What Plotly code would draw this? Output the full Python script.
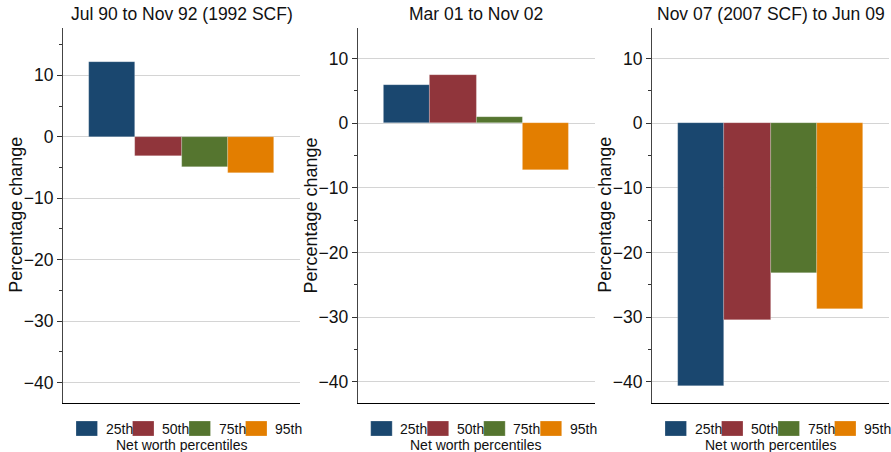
import plotly.graph_objects as go

# ---- data ----
percentiles = ["25th", "50th", "75th", "95th"]
panel_titles = ["Jul 90 to Nov 92 (1992 SCF)", "Mar 01 to Nov 02", "Nov 07 (2007 SCF) to Jun 09"]
changes_1990_92 = [12.1, -3.1, -4.9, -5.9]
changes_2001_02 = [5.9, 7.4, 0.9, -7.2]
changes_2007_09 = [-40.6, -30.4, -23.1, -28.7]
y_ranges = [[-43.3, 17.7], [-43.2, 14.7], [-43.2, 14.7]]
y_tick_vals = [10, 0, -10, -20, -30, -40]
y_title = "Percentage change"
legend_title = "Net worth percentiles"

colors = ["#1a476f", "#90353b", "#55752f", "#e37e00"]
series = [changes_1990_92, changes_2001_02, changes_2007_09]

W, H = 891, 452
FONT = "Liberation Sans, Arial, Helvetica, sans-serif"

panel_px = [(63, 300), (357.7, 595), (652, 889)]
y_top_px, y_bot_px = 28, 402.7
ydom = [1 - y_bot_px / H, 1 - y_top_px / H]

fig = go.Figure()
annotations = []
shapes = []

for i, vals in enumerate(series):
    n = i + 1
    xa = "x" if n == 1 else f"x{n}"
    ya = "y" if n == 1 else f"y{n}"
    fig.add_trace(go.Bar(
        x=list(range(len(percentiles))), y=vals,
        width=1.0,
        marker=dict(color=colors, line=dict(width=0.6, color="rgba(255,255,255,0.35)")),
        xaxis=xa, yaxis=ya, showlegend=False,
        hovertext=percentiles,
    ))
    l, r = panel_px[i]
    dom = [l / W, r / W]
    xkey = "xaxis" if n == 1 else f"xaxis{n}"
    ykey = "yaxis" if n == 1 else f"yaxis{n}"
    fig.update_layout(**{
        xkey: dict(domain=dom, range=[-1.06, 4.06], showticklabels=False, ticks="",
                   showgrid=False, zeroline=False, showline=True, linecolor="#000000",
                   linewidth=1, anchor=ya, fixedrange=True),
        ykey: dict(domain=ydom, range=y_ranges[i], anchor=xa, tickvals=y_tick_vals,
                   ticks="outside", ticklen=5, tickwidth=1, tickcolor="#333333",
                   showgrid=True, gridcolor="#d4d4d4", gridwidth=1,
                   zeroline=False, showline=True, linecolor="#444444", linewidth=1,
                   tickfont=dict(family=FONT, size=17.5, color="#111111"),
                   minor=dict(dtick=5, tick0=0, ticks="outside", ticklen=3,
                              tickcolor="#333333", showgrid=False),
                   fixedrange=True),
    })
    # panel title
    annotations.append(dict(text=panel_titles[i], xref="paper", yref="paper",
                            x=(l + r) / 2 / W, y=1 - 14 / H, xanchor="center", yanchor="middle",
                            showarrow=False, font=dict(family=FONT, size=17.5, color="#111111")))
    # y-axis title
    annotations.append(dict(text=y_title, xref="paper", yref="paper",
                            x=(l - 46.5) / W, y=(ydom[0] + ydom[1]) / 2, textangle=-90,
                            xanchor="center", yanchor="middle", showarrow=False,
                            font=dict(family=FONT, size=18, color="#111111")))
    # legend (swatches + labels)
    sw_top, sw_bot = 421, 436
    for k, (lab, c) in enumerate(zip(percentiles, colors)):
        x0 = l + 13 + k * 56.5
        x1 = x0 + 21.5
        shapes.append(dict(type="rect", xref="paper", yref="paper",
                           x0=x0 / W, x1=x1 / W, y0=1 - sw_bot / H, y1=1 - sw_top / H,
                           fillcolor=c, line=dict(width=0.6, color="rgba(255,255,255,0.4)")))
        annotations.append(dict(text=lab, xref="paper", yref="paper",
                                x=(x1 + 6) / W, y=1 - (sw_top + sw_bot) / 2 / H,
                                xanchor="left", yanchor="middle", showarrow=False,
                                font=dict(family=FONT, size=14, color="#111111")))
    annotations.append(dict(text=legend_title, xref="paper", yref="paper",
                            x=(l + r) / 2 / W, y=1 - 444.5 / H, xanchor="center", yanchor="middle",
                            showarrow=False, font=dict(family=FONT, size=14, color="#111111")))

fig.update_layout(
    width=W, height=H, margin=dict(l=0, r=0, t=0, b=0),
    paper_bgcolor="white", plot_bgcolor="white",
    bargap=0, showlegend=False,
    annotations=annotations, shapes=shapes,
    font=dict(family=FONT),
)

fig.write_html("out.html", config={"displayModeBar": False},
               post_script="document.body.style.margin='0';document.body.style.overflow='hidden';")
